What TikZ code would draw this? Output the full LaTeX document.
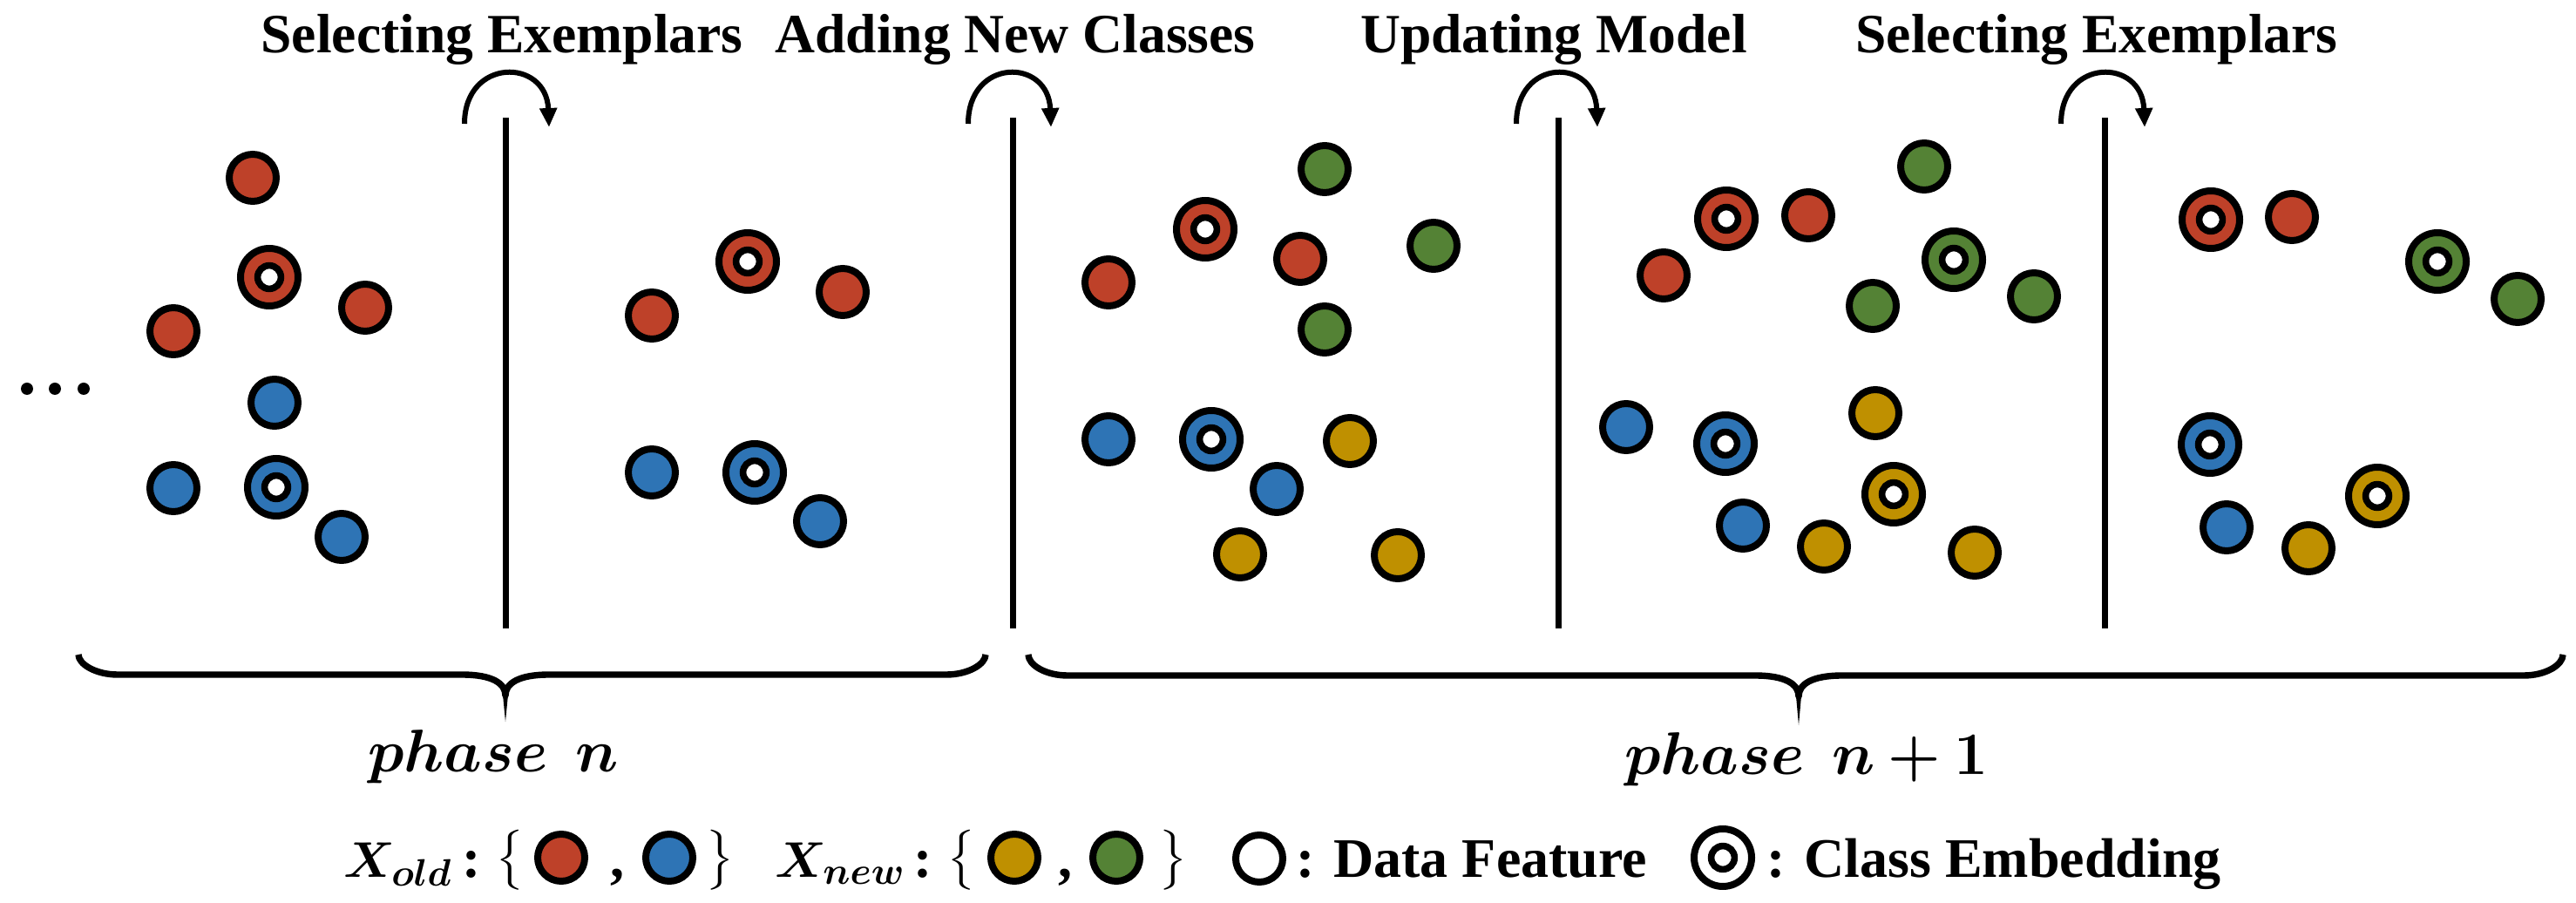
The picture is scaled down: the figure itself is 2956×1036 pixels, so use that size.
\documentclass[tikz,border=0pt]{standalone}
\usepackage{fontspec}
\setmainfont{Liberation Serif}
\usepackage{amsmath,bm}
\usetikzlibrary{arrows.meta}
\definecolor{cred}{RGB}{190,65,41}
\definecolor{cblue}{RGB}{46,116,181}
\definecolor{cyel}{RGB}{191,144,0}
\definecolor{cgrn}{RGB}{84,130,53}
\tikzset{
  feat/.style={circle, draw=black, line width=2pt, minimum size=13.5pt, inner sep=0pt},
  embo/.style={circle, draw=black, line width=2pt, minimum size=16.5pt, inner sep=0pt},
  embi/.style={circle, draw=black, fill=white, line width=1.9pt, minimum size=6.7pt, inner sep=0pt},
  dotmark/.style={circle, fill=black, minimum size=3.5pt, inner sep=0pt},
  sepline/.style={line width=1.75pt},
  turn/.style={line width=1.5pt, -{Triangle[length=5.5pt,width=4.75pt]}},
  bracestroke/.style={line width=1.85pt, line join=round},
  toplabel/.style={font=\bfseries\fontsize{15.9}{18}\selectfont, anchor=base, inner sep=0pt},
  phaselabel/.style={font=\fontsize{17.5}{20}\selectfont, anchor=base, inner sep=0pt},
  legmath/.style={font=\fontsize{15}{18}\selectfont, anchor=base west, inner sep=0pt},
  legtext/.style={font=\bfseries\fontsize{16}{19}\selectfont, anchor=base, inner sep=0pt},
  legtextw/.style={font=\bfseries\fontsize{16}{19}\selectfont, anchor=base west, inner sep=0pt},
  legbrace/.style={font=\fontsize{14.5}{17}\selectfont, anchor=center, inner sep=0pt},
}
\newcommand{\featc}[4]{\node[feat, fill=#4] (#1) at (#2,#3) {};}
\newcommand{\embc}[4]{\node[embo, fill=#4] (#1) at (#2,#3) {}; \node[embi] (#1i) at (#1) {};}
\newcommand{\phbrace}[6]{%
  \draw[bracestroke] (#1,#4) .. controls (#1,#5-12) and (#1+20,#5) .. (#1+45,#5)
    -- (#3-50,#5) .. controls (#3-15,#5) and (#3,#5+10) .. (#3,#5+24)
    .. controls (#3,#5+10) and (#3+15,#5) .. (#3+50,#5)
    -- (#2-45,#5) .. controls (#2-20,#5) and (#2,#5-12) .. (#2,#4);
  \fill (#3-3.5,#5+18) -- (#3,#6) -- (#3+3.5,#5+18) -- cycle;}
\begin{document}
\begin{tikzpicture}[x=0.25pt,y=-0.25pt]
\useasboundingbox (0,0) rectangle (2956,1036);

% top labels
\node[toplabel] (t1) at (576,61) {Selecting Exemplars};
\node[toplabel] (t2) at (1165,61) {Adding New Classes};
\node[toplabel] (t3) at (1783,61) {Updating Model};
\node[toplabel] (t4) at (2406,61) {Selecting Exemplars};

% separators
\coordinate (L1t) at (580,135); \coordinate (L1b) at (580,721);
\coordinate (L2t) at (1162,135); \coordinate (L2b) at (1162,721);
\coordinate (L3t) at (1788,135); \coordinate (L3b) at (1788,721);
\coordinate (L4t) at (2415,135); \coordinate (L4b) at (2415,721);
\draw[sepline] (L1t) -- (L1b);
\draw[sepline] (L2t) -- (L2b);
\draw[sepline] (L3t) -- (L3b);
\draw[sepline] (L4t) -- (L4b);

% turn arrows
\coordinate (A1s) at (533,142); \coordinate (A1e) at (630,146);
\coordinate (A2s) at (1111,142); \coordinate (A2e) at (1206,146);
\coordinate (A3s) at (1740,142); \coordinate (A3e) at (1833,146);
\coordinate (A4s) at (2365,142); \coordinate (A4e) at (2461,146);
\draw[turn] (A1s) .. controls (533,66) and (627,66) .. (A1e);
\draw[turn] (A2s) .. controls (1111,66) and (1203,66) .. (A2e);
\draw[turn] (A3s) .. controls (1740,66) and (1830,66) .. (A3e);
\draw[turn] (A4s) .. controls (2365,66) and (2458,66) .. (A4e);

% dots
\node[dotmark] (d1) at (31,446) {};
\node[dotmark] (d2) at (63,446) {};
\node[dotmark] (d3) at (96,446) {};

% panel 1
\featc{p1a}{290}{204}{cred}
\embc{p1b}{309}{318}{cred}
\featc{p1c}{419}{353}{cred}
\featc{p1d}{199}{380}{cred}
\featc{p1e}{315}{462}{cblue}
\featc{p1f}{199}{560}{cblue}
\embc{p1g}{317}{559}{cblue}
\featc{p1h}{392}{616}{cblue}

% panel 2
\featc{p2a}{748}{362}{cred}
\embc{p2b}{858}{300}{cred}
\featc{p2c}{967}{335}{cred}
\featc{p2d}{748}{542}{cblue}
\embc{p2e}{866}{542}{cblue}
\featc{p2f}{941}{598}{cblue}

% panel 3
\featc{p3a}{1520}{194}{cgrn}
\embc{p3b}{1383}{263}{cred}
\featc{p3c}{1272}{324}{cred}
\featc{p3d}{1492}{297}{cred}
\featc{p3e}{1645}{282}{cgrn}
\featc{p3f}{1520}{378}{cgrn}
\featc{p3g}{1272}{504}{cblue}
\embc{p3h}{1390}{504}{cblue}
\featc{p3i}{1549}{506}{cyel}
\featc{p3j}{1465}{561}{cblue}
\featc{p3k}{1423}{636}{cyel}
\featc{p3l}{1604}{637}{cyel}

% panel 4
\featc{p4a}{2208}{191}{cgrn}
\embc{p4b}{1981}{251}{cred}
\featc{p4c}{2075}{247}{cred}
\featc{p4d}{1909}{316}{cred}
\embc{p4e}{2242}{298}{cgrn}
\featc{p4f}{2334}{340}{cgrn}
\featc{p4g}{2149}{351}{cgrn}
\featc{p4h}{2152}{474}{cyel}
\featc{p4i}{1866}{490}{cblue}
\embc{p4j}{1980}{509}{cblue}
\embc{p4k}{2173}{567}{cyel}
\featc{p4l}{2000}{603}{cblue}
\featc{p4m}{2093}{627}{cyel}
\featc{p4n}{2266}{634}{cyel}

% panel 5
\embc{p5a}{2537}{252}{cred}
\featc{p5b}{2630}{249}{cred}
\embc{p5c}{2797}{300}{cgrn}
\featc{p5d}{2889}{343}{cgrn}
\embc{p5e}{2536}{510}{cblue}
\embc{p5f}{2728}{569}{cyel}
\featc{p5g}{2555}{605}{cblue}
\featc{p5h}{2649}{629}{cyel}

% braces
\phbrace{90}{1131}{580}{751}{774}{828}
\phbrace{1180}{2941}{2064}{751}{775}{832}

% phase labels
\node[phaselabel] (ph1) at (566,885) {$\bm{phase}\hspace{0.45em}\bm{n}$};
\node[phaselabel] (ph2) at (2073,888) {$\bm{phase}\hspace{0.45em}\bm{n+1}$};

% legend
\node[legmath] (xold) at (394,1006) {$\bm{X_{old}}$};
\node[legtext] (c1) at (541,1006) {:};
\node[legbrace] (lb1) at (585,987) {$\big\{$};
\featc{lr}{644}{984}{cred}
\node[legtext] (cm1) at (708,1006) {,};
\featc{lb}{768}{984}{cblue}
\node[legbrace] (rb1) at (826,987) {$\big\}$};

\node[legmath] (xnew) at (889,1006) {$\bm{X_{new}}$};
\node[legtext] (c2) at (1059,1006) {:};
\node[legbrace] (lb2) at (1103,987) {$\big\{$};
\featc{ly}{1164}{984}{cyel}
\node[legtext] (cm2) at (1222,1006) {,};
\featc{lg}{1281}{984}{cgrn}
\node[legbrace] (rb2) at (1346,987) {$\big\}$};

\featc{ldf}{1445}{985}{white}
\node[legtextw] (ldft) at (1487,1006) {: Data Feature};
\embc{lce}{1977}{984}{white}
\node[legtextw] (lcet) at (2027,1006) {: Class Embedding};
\end{tikzpicture}
\end{document}
